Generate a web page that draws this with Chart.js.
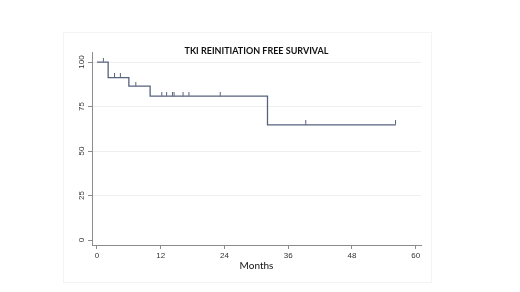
<!DOCTYPE html>
<html>
<head>
<meta charset="utf-8">
<script src="https://cdn.jsdelivr.net/npm/chart.js@4/dist/chart.umd.min.js"></script>
<style>
  html, body { margin: 0; padding: 0; background: #fff; }
  #wrap { width: 520px; height: 292px; }
</style>
</head>
<body>
<div id="wrap"><canvas id="kmChart"></canvas></div>
<script>
// Kaplan-Meier steps (months, % free of TKI reinitiation)
const stepMonths = [0, 2.1, 6.0, 10.0, 32.1, 56.2];
const stepSurvival = [100, 91.3, 86.5, 80.9, 64.7, 64.7];

// censored observations
const censorMonths = [1.2, 3.3, 4.4, 7.3, 12.2, 13.1, 14.2, 14.5, 16.2, 17.3, 23.2, 39.3, 56.2];
const censorSurvival = [100, 91.3, 91.3, 86.5, 80.9, 80.9, 80.9, 80.9, 80.9, 80.9, 80.9, 64.7, 64.7];

const xTicks = [0, 12, 24, 36, 48, 60];
const yTicks = [0, 25, 50, 75, 100];

const lineColor = '#56627c';
const axisColor = '#8c8c8c';

// small tick mark above the curve for censored cases
const censorMark = document.createElement('canvas');
censorMark.width = 3;
censorMark.height = 9;
const cm = censorMark.getContext('2d');
cm.strokeStyle = lineColor;
cm.lineWidth = 1;
cm.beginPath();
cm.moveTo(1.5, 0);
cm.lineTo(1.5, 4.5);
cm.stroke();

const toPoints = (xs, ys) => xs.map((x, i) => ({ x: x, y: ys[i] }));

// faint outer graph region frame
const frame = {
    id: 'frame',
    beforeDraw(chart) {
        const c = chart.ctx;
        c.save();
        c.strokeStyle = '#f4f4f4';
        c.lineWidth = 1;
        c.strokeRect(63.5, 32.5, 368, 250);
        c.restore();
    }
};

const ctxKm = document.getElementById('kmChart');

const dataKm = {
    datasets: [{
        label: 'Survival',
        data: toPoints(stepMonths, stepSurvival),
        stepped: 'before',
        borderColor: lineColor,
        borderWidth: 1.3,
        pointRadius: 0,
        fill: false
    }, {
        label: 'Censored',
        data: toPoints(censorMonths, censorSurvival),
        showLine: false,
        pointStyle: censorMark,
        pointRadius: 4,
        pointHoverRadius: 4
    }]
};

const configKm = {
    type: 'line',
    data: dataKm,
    plugins: [frame],
    options: {
        responsive: true,
        maintainAspectRatio: false,
        animation: false,
        layout: { padding: { left: 0, right: 7, top: 46, bottom: 0 } },
        plugins: {
            legend: { display: false },
            tooltip: { enabled: false },
            title: {
                display: true,
                text: 'TKI REINITIATION FREE SURVIVAL',
                color: '#111',
                font: { family: 'Lato', size: 9, weight: 'bold' },
                padding: { top: 0, bottom: -4 }
            }
        },
        scales: {
            x: {
                type: 'linear',
                min: -0.94,
                max: 61.0,
                afterBuildTicks: (s) => { s.ticks = xTicks.map(v => ({ value: v })); },
                afterFit: (s) => { s.height = 47; },
                grid: {
                    drawOnChartArea: false,
                    tickLength: 4,
                    tickColor: axisColor
                },
                border: { color: axisColor, width: 1 },
                ticks: {
                    color: '#333',
                    font: { family: 'Liberation Sans', size: 8 },
                    padding: 2,
                    maxRotation: 0
                },
                title: {
                    display: true,
                    text: 'Months',
                    color: '#111',
                    font: { family: 'Lato', size: 10 },
                    padding: { top: 0, bottom: 20 }
                }
            },
            y: {
                min: -2.8,
                max: 105.2,
                afterBuildTicks: (s) => { s.ticks = yTicks.map(v => ({ value: v })); },
                afterFit: (s) => { s.width = 92; },
                grid: {
                    color: (c) => (c.tick && c.tick.value === 0) ? 'rgba(0,0,0,0)' : '#efefef',
                    tickLength: 4,
                    tickColor: axisColor
                },
                border: { color: axisColor, width: 1 },
                ticks: {
                    color: '#333',
                    font: { family: 'Liberation Sans', size: 8 },
                    minRotation: 90,
                    maxRotation: 90,
                    crossAlign: 'center',
                    padding: 0
                }
            },
            yRight: {
                position: 'right',
                display: true,
                grid: { display: false },
                border: { display: false },
                ticks: { display: false },
                afterFit: (s) => { s.width = 92; }
            }
        }
    }
};

const kmChart = new Chart(ctxKm, configKm);
</script>
</body>
</html>
